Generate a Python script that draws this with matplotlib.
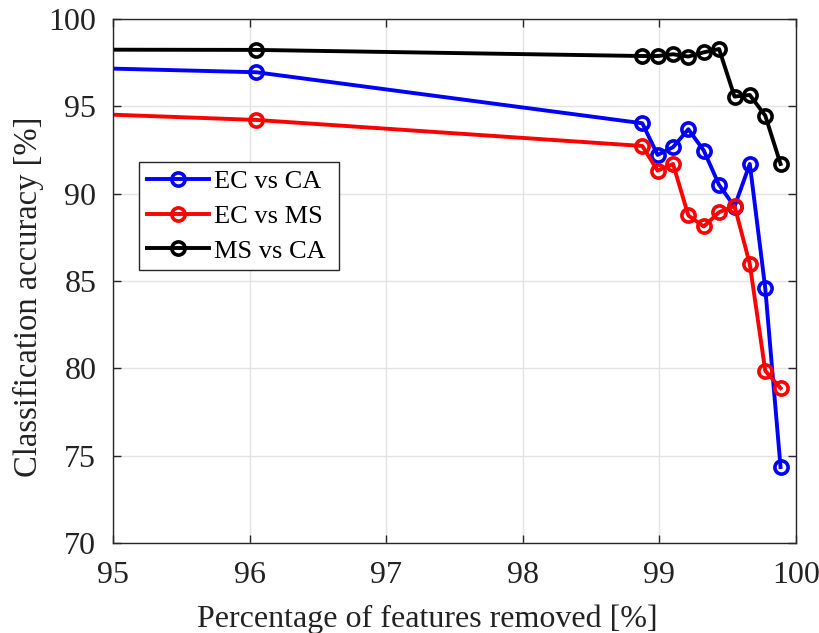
import matplotlib
matplotlib.use("Agg")
import matplotlib.pyplot as plt

# Data (a point left of 95 is off-view, the lines enter from the left edge)
x = [90.0, 96.05, 98.875, 98.987, 99.10, 99.212, 99.325, 99.437, 99.55, 99.662, 99.775, 99.887]
ec_vs_ca = [98.15, 96.95, 94.03, 92.22, 92.66, 93.69, 92.47, 90.50, 89.26, 91.70, 84.59, 74.35]
ec_vs_ms = [95.95, 94.22, 92.73, 91.32, 91.70, 88.75, 88.12, 88.94, 89.30, 85.97, 79.86, 78.87]
ms_vs_ca = [98.30, 98.23, 97.88, 97.88, 97.98, 97.85, 98.09, 98.28, 95.56, 95.65, 94.47, 91.70]
labels = ["EC vs CA", "EC vs MS", "MS vs CA"]
colors = ["#0000ff", "#ff0000", "#000000"]
xticks = [95, 96, 97, 98, 99, 100]
yticks = [70, 75, 80, 85, 90, 95, 100]

plt.rcParams['font.family'] = ['Liberation Serif', 'DejaVu Serif']
plt.rcParams['mathtext.fontset'] = 'stix'

fig = plt.figure(figsize=(8.2, 6.33), dpi=100)
ax = fig.add_axes([0.1378, 0.1422, 0.9707 - 0.1378, 0.970 - 0.1422])

for ys, lab, c in zip([ec_vs_ca, ec_vs_ms, ms_vs_ca], labels, colors):
    ax.plot(x, ys, color=c, lw=2.8, marker='o', ms=9.5, mfc='none', mew=2.6,
            label=lab, clip_on=True)

ax.set_xlim(95, 100)
ax.set_ylim(70, 100)
ax.set_xticks(xticks)
ax.set_yticks(yticks)
ax.grid(True, color='#e3e3e3', lw=1.0)
ax.set_axisbelow(True)
ax.tick_params(direction='in', top=True, right=True, length=6, width=1.0,
               labelsize=23, colors='#262626', labelcolor='#222222')
ax.tick_params(axis='x', pad=13)
ax.tick_params(axis='y', pad=12)
for s in ax.spines.values():
    s.set_color('#262626')
    s.set_linewidth(1.0)

ax.set_xlabel('Percentage of features removed [%]', fontsize=23, color='#222222')
ax.xaxis.set_label_coords(0.46, -0.118)
ax.set_ylabel('Classification accuracy [%]', fontsize=23.5, color='#222222')
ax.yaxis.set_label_coords(-0.101, 0.469)

leg = ax.legend(loc='upper left', bbox_to_anchor=(0.038, 0.521, 0.293, 0.206),
                mode='expand', fontsize=19,
                frameon=True, fancybox=False, framealpha=1, edgecolor='#262626',
                handlelength=2.35, handletextpad=0.2, borderpad=0.3, labelspacing=0.42,
                borderaxespad=0)
leg.get_frame().set_linewidth(1.0)

fig.savefig('out.png', dpi=100)
